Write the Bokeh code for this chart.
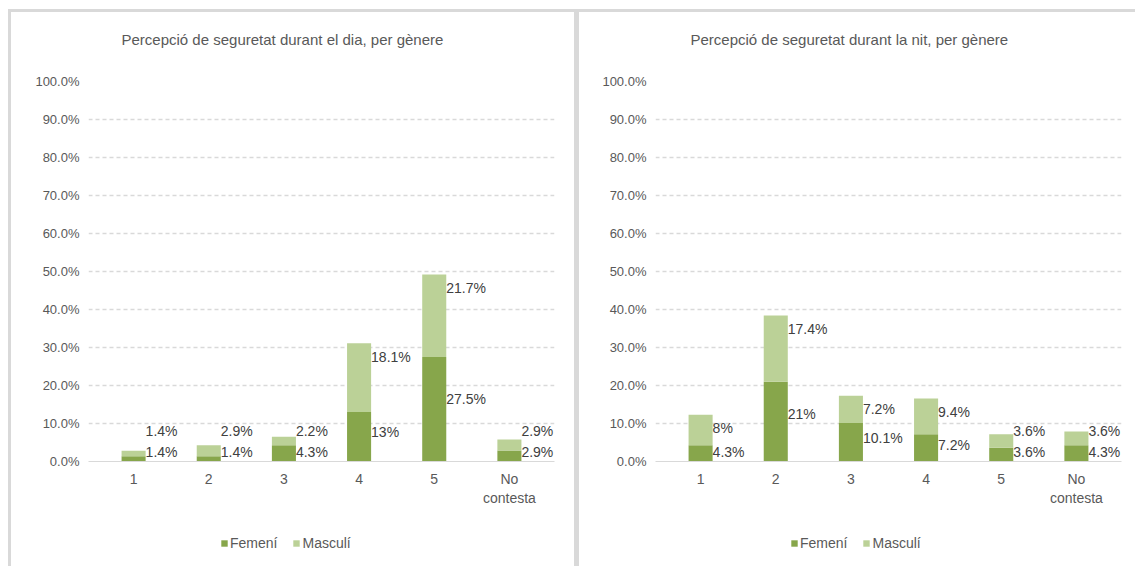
from bokeh.plotting import figure
from bokeh.models import (ColumnDataSource, Range1d, FactorRange, PrintfTickFormatter,
                          Legend, LegendItem, SingleIntervalTicker, Title)
from bokeh.layouts import row, column
from bokeh.embed import file_html
from bokeh.resources import INLINE
from bokeh.core.properties import value

categories = ["1", "2", "3", "4", "5", "No\ncontesta"]
series = ["Femení", "Masculí"]

dia_femeni = [1.4, 1.4, 4.3, 13.0, 27.5, 2.9]
dia_masculi = [1.4, 2.9, 2.2, 18.1, 21.7, 2.9]

nit_femeni = [4.3, 21.0, 10.1, 7.2, 3.6, 4.3]
nit_masculi = [8.0, 17.4, 7.2, 9.4, 3.6, 3.6]

titles = ["Percepció de seguretat durant el dia, per gènere",
          "Percepció de seguretat durant la nit, per gènere"]

DARK = "#87a64b"
LIGHT = "#bbd197"
TXT = "#595959"
FONT = "Liberation Sans"


def fmt(v):
    return f"{v:g}%"


def make(title, fem, mas, width, left_border, right_border, title_offset, legend_x):
    p = figure(x_range=FactorRange(*categories, range_padding=0.1,
                                   range_padding_units="absolute"),
               y_range=Range1d(0, 100),
               width=width, height=516, output_backend="svg", toolbar_location=None,
               min_border_top=69, min_border_bottom=67,
               min_border_left=left_border, min_border_right=right_border,
               outline_line_color=None, border_fill_color=None,
               background_fill_color=None)
    p.title.text = title
    p.title.align = "left"
    p.title.offset = title_offset
    p.title.standoff = 10
    p.title.text_font = FONT
    p.title.text_font_size = "15px"
    p.title.text_font_style = "normal"
    p.title.text_color = TXT
    # spacer between title and frame
    spacer = Title(text=" ", text_font_size="1px", standoff=26)
    p.add_layout(spacer, "above")

    src = ColumnDataSource(dict(cat=categories, **{"Femení": fem, "Masculí": mas}))
    p.vbar_stack(series, x="cat", width=0.32, source=src,
                 color=[DARK, LIGHT], line_color=None)

    f_y = [max(0.6 * f, 2.5) for f in fem]
    m_y = [max(f + m - 3.5, fy + 5.5) for f, m, fy in zip(fem, mas, f_y)]
    lab = ColumnDataSource(dict(
        x=categories * 2,
        y=f_y + m_y,
        t=[fmt(v) for v in fem] + [fmt(v) for v in mas]))
    p.text(x="x", y="y", text="t", source=lab, x_offset=12,
           text_align="left", text_baseline="middle",
           text_font=value(FONT), text_font_size="14px", text_color="#404040")

    p.yaxis.ticker = SingleIntervalTicker(interval=10)
    p.yaxis.formatter = PrintfTickFormatter(format="%.1f%%")
    p.yaxis.axis_line_color = None
    p.yaxis.major_tick_line_color = None
    p.yaxis.minor_tick_line_color = None
    p.yaxis.major_label_text_font = FONT
    p.yaxis.major_label_text_font_size = "13px"
    p.yaxis.major_label_text_color = TXT
    p.yaxis.major_label_standoff = 3

    p.xaxis.axis_line_color = "#d9d9d9"
    p.xaxis.axis_line_width = 1
    p.xaxis.major_tick_line_color = None
    p.xaxis.minor_tick_line_color = None
    p.xaxis.major_label_text_font = FONT
    p.xaxis.major_label_text_font_size = "14px"
    p.xaxis.major_label_text_color = TXT
    p.xaxis.major_label_standoff = 3

    p.xgrid.grid_line_color = None
    p.ygrid.grid_line_color = "#d9d9d9"
    p.ygrid.grid_line_dash = "4 3"
    p.ygrid.grid_line_width = 1.5

    # legend in its own strip below the chart; the bars drawn there fall outside its y range
    lf = figure(width=width, height=38, output_backend="svg", toolbar_location=None,
                x_range=FactorRange(*categories), y_range=Range1d(500, 501),
                min_border=0, outline_line_color=None, border_fill_color=None,
                background_fill_color=None)
    lf.axis.visible = False
    lf.grid.visible = False
    rs = lf.vbar_stack(series, x="cat", width=0.32, source=src,
                       color=[DARK, LIGHT], line_color=None)
    legend = Legend(items=[LegendItem(label=s, renderers=[r]) for s, r in zip(series, rs)],
                    orientation="horizontal", location=(legend_x, 15),
                    label_text_font=FONT, label_text_font_size="14px",
                    label_text_color=TXT, glyph_width=8, glyph_height=8,
                    label_standoff=2, spacing=15, padding=4, margin=0,
                    border_line_color=None, background_fill_alpha=0)
    lf.add_layout(legend)
    return column(p, lf, spacing=0, styles={"background-color": "white"})


c1 = make(titles[0], dia_femeni, dia_masculi, 563, 77, 20, 33, 132)
c2 = make(titles[1], nit_femeni, nit_masculi, 556, 76, 14, 35, 135)

panels = row(c1, c2, spacing=5,
             styles={"background-color": "#d9d9d9", "padding": "3px 0px 0px 3px"})
page = column(panels, styles={"padding": "9px 0px 0px 8px"})
open("out.html", "w").write(file_html(page, INLINE))
